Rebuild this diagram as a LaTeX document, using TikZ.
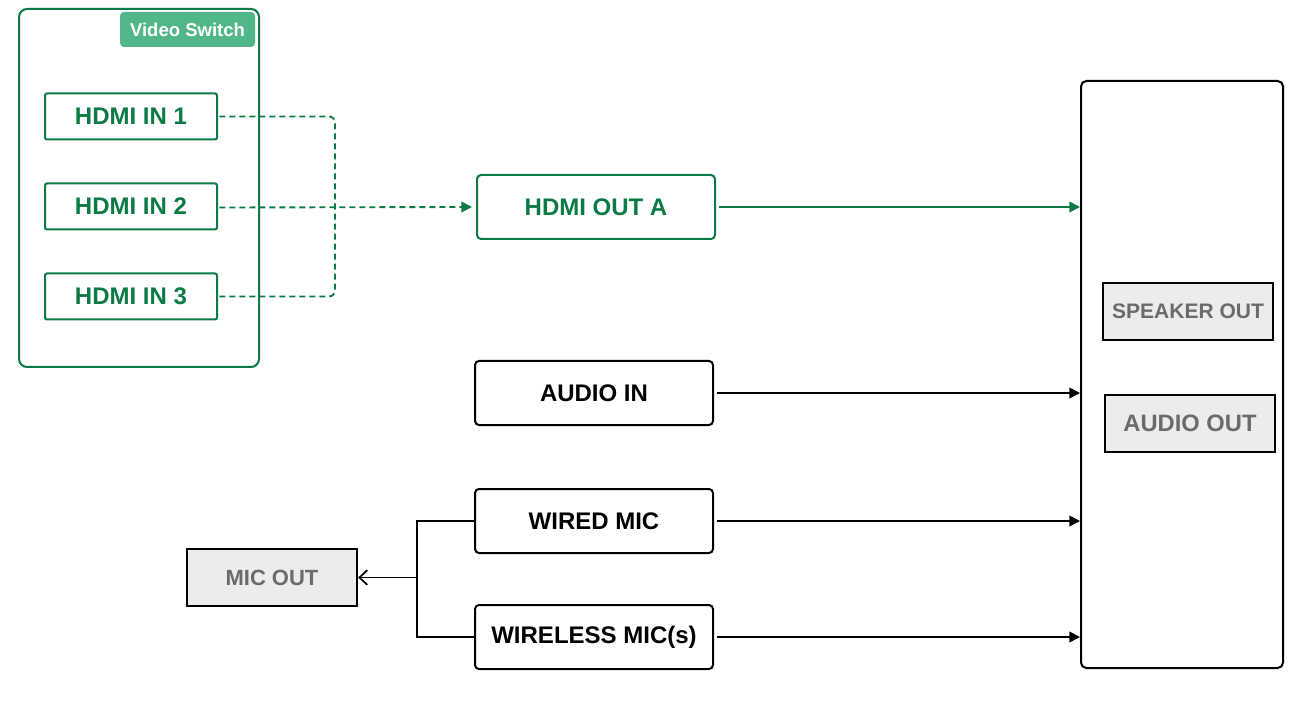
\documentclass[tikz,border=0pt]{standalone}
\usepackage{fontspec}
\setmainfont{Liberation Sans}
\usetikzlibrary{arrows.meta}
\definecolor{vgreen}{HTML}{0B7A45}
\definecolor{lgreen}{HTML}{52B788}
\definecolor{gfill}{HTML}{ECECEC}
\definecolor{gtext}{HTML}{6B6B6B}
\tikzset{
  gbox/.style={draw=vgreen, line width=1.5pt, rounded corners=1.5pt, inner sep=0pt,
    text=vgreen, font=\bfseries\fontsize{18}{20}\selectfont},
  kbox/.style={draw=black, line width=1.5pt, rounded corners=3pt, inner sep=0pt,
    text=black, font=\bfseries\fontsize{18}{20}\selectfont},
  outbox/.style={draw=black, line width=1.6pt, fill=gfill, inner sep=0pt, text=gtext,
    minimum width=127.5pt, minimum height=42.75pt},
  gdash/.style={draw=vgreen, line width=1.4pt, dash pattern=on 4.5pt off 3pt},
  garrow/.style={draw=vgreen, line width=1.3pt, -{Triangle[length=8pt,width=8pt]}},
  karrow/.style={draw=black, line width=1.3pt, -{Triangle[length=8pt,width=8pt]}},
  kline/.style={draw=black, line width=1.3pt},
}
\begin{document}
\begin{tikzpicture}[x=0.75pt,y=-0.75pt]
\useasboundingbox (0,0) rectangle (1292,716);
% video switch group
\node[draw=vgreen, line width=1.5pt, rounded corners=6pt, minimum width=180pt, minimum height=268.5pt, inner sep=0pt] (vsw) at (139,188) {};
\node[fill=lgreen, rounded corners=3pt, minimum width=101.25pt, minimum height=26.25pt, inner sep=0pt, text=white, font=\bfseries\fontsize{13.9}{15}\selectfont] (vlabel) at (187.5,29.5) {Video Switch};
\node[gbox, minimum width=129pt, minimum height=34.5pt] (in1) at (131,116.5) {HDMI IN 1};
\node[gbox, minimum width=129pt, minimum height=34.5pt] (in2) at (131,206.5) {HDMI IN 2};
\node[gbox, minimum width=129pt, minimum height=34.5pt] (in3) at (131,296.5) {HDMI IN 3};
% middle column
\node[gbox, rounded corners=3pt, minimum width=178.5pt, minimum height=48pt] (outA) at (596,207) {HDMI OUT A};
\node[kbox, minimum width=178.5pt, minimum height=48pt] (audioin) at (594,393) {AUDIO IN};
\node[kbox, minimum width=178.5pt, minimum height=48pt] (wired) at (594,521) {WIRED MIC};
\node[kbox, minimum width=178.5pt, minimum height=48pt] (wireless) at (594,637) {WIRELESS MIC(s)};
% mic out
\node[outbox, font=\bfseries\fontsize{16.5}{18}\selectfont] (micout) at (272,577.5) {MIC OUT};
% right device
\node[draw=black, line width=1.5pt, rounded corners=4pt, minimum width=151.5pt, minimum height=440.25pt, inner sep=0pt] (dev) at (1182,374.5) {};
\node[outbox, font=\bfseries\fontsize{15.75}{17}\selectfont] (speaker) at (1188,311.5) {SPEAKER OUT};
\node[outbox, font=\bfseries\fontsize{17.8}{19}\selectfont] (audioout) at (1190,423.5) {AUDIO OUT};
% dashed switching lines
\coordinate (jn) at (335,207);
\draw[gdash, rounded corners=4.5pt] ([xshift=1pt]in1.east) -| (jn);
\draw[gdash, rounded corners=4.5pt] ([xshift=1pt]in3.east) -| (jn);
\draw[gdash, -{Triangle[length=8pt,width=8pt]}, shorten >=3pt] ([xshift=1pt,yshift=-0.75pt]in2.east) -- (outA.west);
% solid arrows to device
\draw[garrow, shorten <=2pt] (outA.east) -- (outA.east -| dev.west);
\draw[karrow, shorten <=2pt] (audioin.east) -- (audioin.east -| dev.west);
\draw[karrow, shorten <=2pt] (wired.east) -- (wired.east -| dev.west);
\draw[karrow, shorten <=2pt] (wireless.east) -- (wireless.east -| dev.west);
% mic split
\coordinate (jm) at (417,577.5);
\draw[kline] (wired.west) -| (jm) |- (wireless.west);
\draw[kline, -{Straight Barb[length=6pt,width=11pt]}] (jm) -- (micout.east);
\end{tikzpicture}
\end{document}
